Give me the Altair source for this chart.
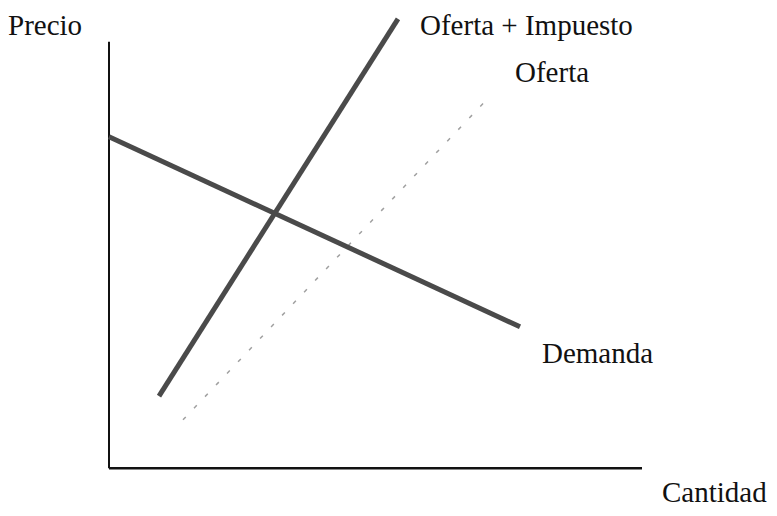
import altair as alt
import pandas as pd

# Curves (quantity, price) in diagram units; origin of the axes at (0, 0)
demanda_q = [0.0, 82.2]
demanda_p = [67.0, 28.6]
oferta_imp_q = [10.0, 57.8]
oferta_imp_p = [14.6, 90.8]
oferta_q = [14.8, 76.4]
oferta_p = [9.8, 75.4]

# Axes extents
eje_precio_max = 86.2
eje_cantidad_max = 106.6

# Text labels
label_text = ["Precio", "Oferta + Impuesto", "Oferta", "Demanda", "Cantidad"]
label_q = [-20.2, 62.2, 81.2, 86.6, 110.6]
label_p = [87.6, 87.6, 78.0, 21.2, -6.8]

xs = alt.Scale(domain=[-20.2, 132.0], nice=False, zero=False)
ys = alt.Scale(domain=[-7.0, 93.0], nice=False, zero=False)

def line_df(q, p):
    return pd.DataFrame({"q": q, "p": p, "i": list(range(len(q)))})

def line_layer(df, color, width, dash=None):
    kw = dict(color=color, strokeWidth=width, strokeCap="butt")
    if dash:
        kw["strokeDash"] = dash
    return alt.Chart(df).mark_line(**kw).encode(
        x=alt.X("q:Q", scale=xs, axis=None),
        y=alt.Y("p:Q", scale=ys, axis=None),
        order="i:Q",
    )

ejes_v = line_df([0.0, 0.0], [0.0, eje_precio_max])
ejes_h = line_df([0.0, eje_cantidad_max], [0.0, 0.0])

layers = [
    line_layer(ejes_v, "#111111", 2),
    line_layer(ejes_h, "#111111", 2.5),
    line_layer(line_df(oferta_q, oferta_p), "#a0a0a0", 1.5, [4, 12]),
    line_layer(line_df(demanda_q, demanda_p), "#4a4a4a", 5),
    line_layer(line_df(oferta_imp_q, oferta_imp_p), "#4a4a4a", 5),
]

labels = pd.DataFrame({"t": label_text, "q": label_q, "p": label_p})
text = alt.Chart(labels).mark_text(
    align="left", baseline="alphabetic", font="Liberation Serif",
    fontSize=29, color="#111111"
).encode(
    x=alt.X("q:Q", scale=xs, axis=None),
    y=alt.Y("p:Q", scale=ys, axis=None),
    text="t:N",
)

chart = alt.layer(*layers, text).properties(
    width=761, height=500,
    autosize=alt.AutoSizeParams(type="fit", contains="padding"),
    padding=0,
    background="white",
).configure_view(stroke=None)

chart.save("out.html", embed_options={"renderer": "svg", "actions": False})
